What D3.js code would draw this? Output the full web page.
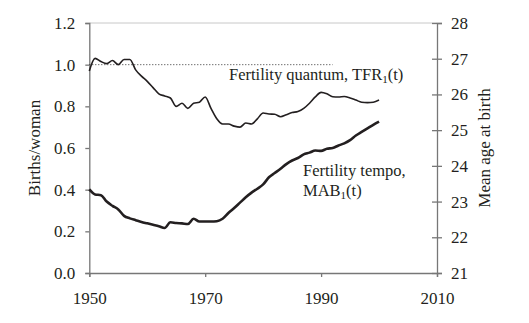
<!DOCTYPE html>
<html><head><meta charset="utf-8">
<script src="https://cdn.jsdelivr.net/npm/d3@7"></script>
<style>body{margin:0;background:#fff}svg{display:block}svg text{font-family:"Liberation Serif","Times New Roman",serif !important;fill:#231f20}</style>
</head><body>
<svg id="c" width="529" height="323"></svg>
<script>
const tfrYears = [1950,1951,1952,1953,1954,1955,1956,1957,1958,1959,1960,1961,1962,1963,1964,1965,1966,1967,1968,1969,1970,1971,1972,1973,1974,1975,1976,1977,1978,1979,1980,1981,1982,1983,1984,1985,1986,1987,1988,1989,1990,1991,1992,1993,1994,1995,1996,1997,1998,1999,2000];
const tfrValues = [0.97,1.03,1.015,1.005,1.02,1.0,1.025,1.025,0.975,0.945,0.92,0.89,0.86,0.85,0.84,0.80,0.815,0.79,0.815,0.82,0.845,0.79,0.74,0.715,0.715,0.705,0.70,0.72,0.715,0.74,0.768,0.763,0.762,0.75,0.76,0.77,0.775,0.79,0.815,0.845,0.867,0.86,0.846,0.845,0.847,0.84,0.83,0.82,0.818,0.82,0.83];
const mabYears = tfrYears;
const mabValues = [23.34,23.20,23.18,23.0,22.88,22.78,22.6,22.53,22.48,22.43,22.39,22.35,22.31,22.26,22.42,22.40,22.39,22.37,22.52,22.44,22.44,22.44,22.45,22.52,22.68,22.82,22.97,23.12,23.25,23.36,23.48,23.68,23.80,23.92,24.05,24.15,24.22,24.32,24.37,24.43,24.42,24.48,24.50,24.57,24.63,24.72,24.85,24.95,25.05,25.15,25.24];
const xTicks = [1950,1970,1990,2010];
const leftTicks = [0.0,0.2,0.4,0.6,0.8,1.0,1.2];
const rightTicks = [21,22,23,24,25,26,27,28];
const referenceLevel = 1.0, referenceEnd = 1992;

const svg = d3.select('#c');
const L=89.3, R=437, T=23, B=273;
const x = d3.scaleLinear().domain([1950,2010]).range([L,R]);
const yL = d3.scaleLinear().domain([0,1.2]).range([B,T]);
const yR = d3.scaleLinear().domain([21,28]).range([B,T]);
const axisCol = '#777';
const serif = '"Liberation Serif","Times New Roman",serif';

svg.append('line').attr('x1',L).attr('x2',R).attr('y1',T).attr('y2',T).attr('stroke','#c8c8c8').attr('stroke-width',1);

function styleAxis(g){
  g.attr('font-family',null).attr('font-size',null);
  g.select('.domain').attr('stroke',axisCol).attr('stroke-width',1.3);
  g.selectAll('.tick line').attr('stroke',axisCol).attr('stroke-width',1.3);
  g.selectAll('text').style('font-family',serif).style('font-size','17px').attr('fill','#231f20');
}

const gx = svg.append('g').attr('transform',`translate(0,${B})`).call(d3.axisBottom(x).tickValues(xTicks).tickFormat(d3.format('d')).tickSize(4).tickPadding(15));
styleAxis(gx);
const gl = svg.append('g').attr('transform',`translate(${L},0)`).call(d3.axisLeft(yL).tickValues(leftTicks).tickFormat(d3.format('.1f')).tickSize(4).tickPadding(10));
styleAxis(gl);
const gr = svg.append('g').attr('transform',`translate(${R},0)`).call(d3.axisRight(yR).tickValues(rightTicks).tickFormat(d3.format('d')).tickSize(5).tickPadding(9));
styleAxis(gr);
gr.selectAll('.tick line').attr('x1',-5);

svg.append('text').attr('transform','translate(40,148) rotate(-90)').attr('text-anchor','middle').style('font-size','17px').text('Births/woman');
svg.append('text').attr('transform','translate(490,148) rotate(-90)').attr('text-anchor','middle').style('font-size','17px').text('Mean age at birth');

svg.append('line').attr('x1',x(1950)).attr('x2',x(referenceEnd)).attr('y1',yL(referenceLevel)).attr('y2',yL(referenceLevel))
  .attr('stroke','#333').attr('stroke-width',1).attr('stroke-dasharray','1,2');

const tfr = tfrYears.map((d,i)=>[d,tfrValues[i]]);
const mab = mabYears.map((d,i)=>[d,mabValues[i]]);
svg.append('path').datum(tfr).attr('fill','none').attr('stroke','#231f20').attr('stroke-width',1.6)
  .attr('d',d3.line().x(d=>x(d[0])).y(d=>yL(d[1])).curve(d3.curveMonotoneX));
svg.append('path').datum(mab).attr('fill','none').attr('stroke','#231f20').attr('stroke-width',2.6)
  .attr('d',d3.line().x(d=>x(d[0])).y(d=>yR(d[1])).curve(d3.curveMonotoneX));

const t1 = svg.append('text').attr('x',229).attr('y',80).style('font-size','16.5px');
t1.append('tspan').text('Fertility quantum, TFR');
t1.append('tspan').style('font-size','11px').attr('dy',3).text('1');
t1.append('tspan').attr('dy',-3).text('(t)');
svg.append('text').attr('x',303).attr('y',176).style('font-size','16.5px').text('Fertility tempo,');
const t2 = svg.append('text').attr('x',303).attr('y',196).style('font-size','16.5px');
t2.append('tspan').text('MAB');
t2.append('tspan').style('font-size','11px').attr('dy',3).text('1');
t2.append('tspan').attr('dy',-3).text('(t)');
</script>
</body></html>
